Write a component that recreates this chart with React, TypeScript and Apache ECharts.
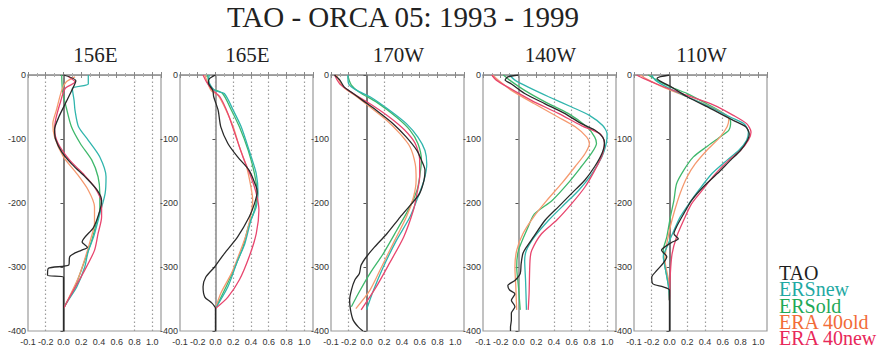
import React, { useEffect, useRef } from 'react';
import * as echarts from 'echarts';

const mainTitle = 'TAO - ORCA 05: 1993 - 1999';
const stations = ['156E', '165E', '170W', '140W', '110W'];
const seriesNames = ['TAO', 'ERSnew', 'ERSold', 'ERA 40old', 'ERA 40new'];
const xTickLabels = ['-0.1', '-0.2', '0.0', '0.2', '0.4', '0.6', '0.8', '1.0'];

// [velocity, depth]
const tao156E = [[0,0],[0.14,-9],[0.09,-25],[0.02,-45],[-0.05,-65],[-0.1,-85],[-0.09,-100],[-0.02,-120],[0.1,-140],[0.25,-160],[0.38,-180],[0.43,-196],[0.41,-212],[0.34,-238],[0.21,-261],[0.27,-269],[0.2,-274],[0.13,-278],[0.07,-284],[0.06,-297],[-0.17,-302],[-0.18,-313],[0,-316],[0,-400]];
const ersNew156E = [[0.28,0],[0.28,-14],[0.1,-21],[0.12,-40],[0.13,-55],[0.17,-81],[0.28,-102],[0.41,-128],[0.48,-159],[0.47,-185],[0.41,-217],[0.34,-253],[0.28,-275],[0.24,-300],[0.15,-331],[0.03,-357],[0,-365]];
const ersOld156E = [[-0.02,0],[-0.01,-25],[0.03,-50],[0.09,-81],[0.19,-107],[0.32,-133],[0.39,-159],[0.41,-185],[0.41,-210],[0.37,-232],[0.32,-258],[0.24,-290],[0.13,-331],[0,-365]];
const era40Old156E = [[0.13,-3],[0.03,-11],[-0.02,-24],[-0.08,-55],[-0.12,-76],[-0.1,-97],[0,-128],[0.15,-154],[0.28,-180],[0.35,-206],[0.35,-232],[0.31,-255],[0.26,-279],[0.17,-316],[0,-365]];
const era40New156E = [[0.05,-2],[0.13,-11],[0.02,-21],[-0.04,-45],[-0.09,-71],[-0.1,-86],[-0.06,-107],[0.07,-133],[0.22,-154],[0.35,-175],[0.43,-201],[0.43,-222],[0.39,-248],[0.35,-274],[0.22,-310],[0.07,-347],[0,-365]];

const tao165E = [[0,0],[-0.07,-6],[-0.08,-12],[-0.03,-24],[-0.02,-34],[0.03,-55],[0.06,-81],[0.14,-107],[0.25,-128],[0.38,-149],[0.46,-175],[0.47,-183],[0.44,-201],[0.38,-222],[0.25,-253],[0.1,-279],[-0.01,-300],[-0.11,-316],[-0.14,-331],[-0.12,-347],[-0.05,-355],[0,-365],[0,-400]];
const ersNew165E = [[-0.07,0],[-0.08,-8],[-0.01,-24],[0.1,-29],[0.2,-55],[0.29,-81],[0.38,-118],[0.46,-154],[0.48,-185],[0.46,-206],[0.4,-227],[0.33,-264],[0.25,-290],[0.14,-331],[0,-365]];
const ersOld165E = [[-0.09,0],[-0.05,-20],[0.08,-29],[0.18,-55],[0.27,-81],[0.37,-118],[0.44,-154],[0.47,-185],[0.44,-211],[0.37,-237],[0.31,-269],[0.22,-300],[0.12,-331],[0,-365]];
const era40Old165E = [[-0.12,0],[-0.05,-24],[0.03,-32],[0.12,-55],[0.2,-81],[0.27,-112],[0.35,-143],[0.4,-175],[0.42,-196],[0.4,-217],[0.35,-248],[0.27,-279],[0.18,-310],[0.06,-341],[0,-365]];
const era40New165E = [[-0.14,0],[-0.1,-11],[-0.03,-24],[0.05,-34],[0.14,-60],[0.22,-92],[0.31,-128],[0.4,-159],[0.46,-185],[0.49,-211],[0.46,-248],[0.38,-284],[0.27,-320],[0.14,-347],[0,-365]];

const tao170W = [[-0.36,0],[-0.3,-8],[-0.25,-19],[-0.15,-29],[-0.04,-40],[0.11,-55],[0.3,-76],[0.45,-97],[0.57,-118],[0.62,-133],[0.66,-149],[0.65,-164],[0.6,-185],[0.51,-201],[0.38,-222],[0.23,-248],[0.09,-269],[0,-284],[-0.06,-297],[-0.08,-310],[-0.13,-320],[-0.17,-336],[-0.19,-352],[-0.18,-367],[-0.15,-383],[-0.09,-394],[-0.04,-400]];
const ersNew170W = [[-0.21,0],[-0.2,-14],[-0.11,-24],[0.04,-34],[0.26,-55],[0.45,-76],[0.58,-97],[0.66,-118],[0.68,-139],[0.65,-164],[0.58,-191],[0.49,-222],[0.34,-258],[0.19,-300],[0.08,-336],[0,-367]];
const ersOld170W = [[-0.21,-2],[-0.17,-16],[-0.08,-27],[0.11,-42],[0.34,-66],[0.49,-86],[0.58,-107],[0.62,-133],[0.6,-159],[0.57,-180],[0.49,-206],[0.34,-243],[0.19,-279],[0.04,-310],[-0.09,-341],[-0.17,-362]];
const era40Old170W = [[-0.34,0],[-0.26,-19],[-0.11,-34],[0.04,-50],[0.23,-71],[0.38,-92],[0.49,-112],[0.55,-139],[0.56,-164],[0.53,-191],[0.45,-222],[0.32,-258],[0.17,-300],[0.04,-336],[-0.12,-365]];
const era40New170W = [[-0.36,0],[-0.3,-14],[-0.15,-29],[0.04,-45],[0.26,-66],[0.43,-86],[0.55,-107],[0.6,-133],[0.6,-159],[0.57,-185],[0.53,-211],[0.42,-253],[0.26,-294],[0.11,-331],[-0.06,-367]];

const tao140W = [[0,0],[-0.12,-3],[-0.15,-8],[-0.08,-14],[0.07,-29],[0.3,-45],[0.52,-60],[0.71,-76],[0.86,-86],[0.95,-97],[0.97,-107],[0.94,-123],[0.86,-143],[0.75,-164],[0.6,-185],[0.45,-206],[0.3,-227],[0.17,-253],[0.09,-269],[0.05,-279],[0.03,-295],[0.02,-310],[-0.04,-321],[-0.12,-329],[-0.1,-336],[-0.04,-342],[-0.08,-352],[-0.04,-362],[-0.08,-372],[-0.08,-383],[-0.09,-394],[-0.09,-400]];
const ersNew140W = [[-0.1,0],[-0.04,-8],[0.11,-19],[0.34,-34],[0.6,-50],[0.8,-63],[0.95,-79],[1.0,-92],[0.99,-107],[0.94,-128],[0.83,-154],[0.68,-180],[0.49,-206],[0.34,-227],[0.18,-253],[0.09,-274],[0.07,-290],[0.08,-321],[0.09,-367]];
const ersOld140W = [[-0.17,0],[-0.1,-8],[0.07,-24],[0.3,-42],[0.56,-60],[0.77,-81],[0.86,-97],[0.88,-107],[0.82,-123],[0.71,-143],[0.56,-169],[0.38,-196],[0.18,-217],[0.11,-237],[0,-274],[-0.02,-300],[0,-331],[0.02,-367]];
const era40Old140W = [[-0.29,0],[-0.23,-8],[-0.08,-24],[0.18,-45],[0.45,-66],[0.64,-81],[0.77,-97],[0.8,-107],[0.75,-123],[0.64,-143],[0.49,-169],[0.32,-196],[0.17,-222],[0.05,-248],[-0.02,-274],[-0.04,-300],[-0.03,-331],[-0.02,-367]];
const era40New140W = [[-0.3,0],[-0.25,-8],[-0.12,-19],[0.15,-40],[0.45,-60],[0.71,-79],[0.92,-92],[0.97,-105],[0.95,-123],[0.86,-149],[0.75,-175],[0.6,-201],[0.43,-227],[0.26,-248],[0.15,-274],[0.13,-290],[0.12,-341],[0.11,-367]];

const tao110W = [[0,0],[-0.14,-5],[-0.1,-10],[0,-17],[0.2,-34],[0.5,-55],[0.72,-71],[0.86,-81],[0.9,-92],[0.88,-102],[0.8,-118],[0.69,-133],[0.54,-154],[0.38,-175],[0.25,-196],[0.16,-217],[0.08,-237],[0.05,-248],[0.1,-256],[0.02,-262],[-0.09,-274],[-0.03,-284],[-0.07,-294],[-0.14,-305],[-0.2,-316],[-0.19,-326],[-0.07,-331],[0,-336],[0,-400]];
const ersNew110W = [[-0.2,0],[-0.16,-8],[-0.03,-19],[0.2,-34],[0.46,-50],[0.69,-66],[0.84,-76],[0.89,-89],[0.87,-102],[0.78,-118],[0.65,-133],[0.48,-154],[0.33,-180],[0.22,-201],[0.12,-222],[0.05,-243],[-0.03,-269],[-0.07,-284],[-0.05,-300],[-0.01,-331],[0,-352]];
const ersOld110W = [[-0.24,0],[-0.18,-5],[-0.03,-16],[0.2,-29],[0.42,-45],[0.61,-60],[0.69,-73],[0.67,-86],[0.57,-97],[0.42,-112],[0.27,-128],[0.16,-149],[0.08,-170],[0.05,-196],[0.01,-222],[-0.03,-253],[-0.07,-274],[-0.05,-300],[-0.01,-331],[0,-352]];
const era40Old110W = [[-0.33,0],[-0.26,-6],[-0.07,-19],[0.2,-34],[0.42,-47],[0.61,-60],[0.67,-68],[0.65,-81],[0.57,-97],[0.42,-118],[0.29,-139],[0.2,-159],[0.12,-185],[0.06,-211],[0.01,-237],[-0.03,-264],[-0.05,-290],[-0.01,-321],[0,-352]];
const era40New110W = [[-0.37,0],[-0.3,-5],[-0.11,-16],[0.2,-32],[0.5,-47],[0.72,-63],[0.87,-76],[0.92,-89],[0.89,-102],[0.8,-118],[0.67,-133],[0.52,-154],[0.37,-180],[0.25,-201],[0.16,-227],[0.08,-253],[0.03,-279],[0.01,-310],[0,-352]];

// dotted reference lines per panel, and whether a solid zero line is drawn
const refLines156E = [-0.2, 0.8, 1.0];
const refLines165E = [0.0, 0.2, 0.4, 0.6, 0.8, 1.0];
const refLines170W = [-0.2, 0.2];
const refLines140W = [0.4, 0.6, 0.8, 1.0];
const refLines110W = [-0.2, 0.2, 0.4, 0.6];
const zeroLines = [false, false, true, false, true];

const panelData = [
  [tao156E, ersNew156E, ersOld156E, era40Old156E, era40New156E],
  [tao165E, ersNew165E, ersOld165E, era40Old165E, era40New165E],
  [tao170W, ersNew170W, ersOld170W, era40Old170W, era40New170W],
  [tao140W, ersNew140W, ersOld140W, era40Old140W, era40New140W],
  [tao110W, ersNew110W, ersOld110W, era40Old110W, era40New110W],
];
const panelRefs = [refLines156E, refLines165E, refLines170W, refLines140W, refLines110W];

const lineColors = ['#2a2a2a', '#30b5ad', '#3fb86c', '#f59a70', '#e8466e'];
const legendColors = ['#1e1e1e', '#1fa9a3', '#1fa957', '#f26c38', '#e8285a'];

const X_MIN = -0.4;
const X_MAX = 1.1;
const X_STEP = 0.2;
const gridLefts = [28, 180, 331, 483, 634];
const GRID_W = 133;
const GRID_TOP = 75;
const GRID_H = 256;

const serif = "'Liberation Serif', serif";
const sans = "'Liberation Sans', sans-serif";

function xLabel(v: number): string {
  const i = Math.round((v - X_MIN) / X_STEP);
  if (i >= 0 && i < xTickLabels.length && Math.abs(X_MIN + i * X_STEP - v) < 1e-6) return xTickLabels[i];
  return '';
}

export default function App() {
  const ref = useRef<HTMLDivElement>(null);
  useEffect(() => {
    const chart = echarts.init(ref.current!, null, { renderer: 'svg' });
    const grids: any[] = [];
    const xAxes: any[] = [];
    const yAxes: any[] = [];
    const series: any[] = [];
    const drawOrder = [2, 3, 1, 4, 0];
    stations.forEach((st, p) => {
      grids.push({ left: gridLefts[p], top: GRID_TOP, width: GRID_W, height: GRID_H, show: true, borderColor: '#9a9a9a', borderWidth: 1.2, backgroundColor: 'transparent' });
      xAxes.push({
        type: 'value', gridIndex: p, min: X_MIN, max: X_MAX, interval: X_STEP, position: 'bottom',
        axisLine: { show: true, lineStyle: { color: '#9a9a9a', width: 1.2 } },
        axisTick: { show: true, inside: true, length: 3, lineStyle: { color: '#888' } },
        minorTick: { show: true, splitNumber: 2, length: 2, lineStyle: { color: '#aaa' } },
        axisLabel: { formatter: xLabel, fontFamily: sans, fontSize: 9, color: '#333', margin: 6, showMaxLabel: false },
        splitLine: { show: false },
      });
      yAxes.push({
        type: 'value', gridIndex: p, min: -400, max: 0, interval: 100,
        axisLine: { show: true, lineStyle: { color: p === 0 ? '#555' : '#888', width: 1.5 } },
        axisTick: { show: true, inside: false, length: 3, lineStyle: { color: '#555' } },
        axisLabel: { fontFamily: sans, fontSize: 9, color: '#333', margin: 2 },
        splitLine: { show: false },
      });
      drawOrder.forEach((k, n) => {
        const s: any = {
          type: 'line', name: seriesNames[k], xAxisIndex: p, yAxisIndex: p,
          data: panelData[p][k], showSymbol: false, symbol: 'none', smooth: 0.25,
          lineStyle: { color: lineColors[k], width: 1.3 }, itemStyle: { color: lineColors[k] },
          z: 3 + n,
        };
        if (n === 0) {
          const ml: any[] = panelRefs[p].map((v) => ({ xAxis: v, lineStyle: { type: [1.5, 2.5], color: '#9c9c9c', width: 1.2 } }));
          if (zeroLines[p]) ml.push({ xAxis: 0, lineStyle: { type: 'solid', color: '#6e6e6e', width: 1.5 } });
          s.markLine = { silent: true, symbol: ['none', 'none'], label: { show: false }, data: ml, z: 1 };
        }
        series.push(s);
      });
    });
    // top border ticks
    stations.forEach((st, p) => {
      xAxes.push({
        type: 'value', gridIndex: p, min: X_MIN, max: X_MAX, interval: X_STEP, position: 'top',
        axisLine: { show: true, lineStyle: { color: '#9a9a9a', width: 1.5 } },
        axisTick: { show: true, inside: true, length: 3, lineStyle: { color: '#888' } },
        minorTick: { show: true, splitNumber: 2, length: 2, lineStyle: { color: '#aaa' } },
        axisLabel: { show: false }, splitLine: { show: false },
      });
    });
    const legendRich: any = {};
    seriesNames.forEach((n, i) => {
      legendRich['s' + i] = { color: legendColors[i], fontFamily: serif, fontSize: 20, lineHeight: 16.25 };
    });
    const option: any = {
      animation: false,
      backgroundColor: '#ffffff',
      textStyle: { fontFamily: serif },
      title: [
        { text: mainTitle, left: 403, top: 2, textAlign: 'center', padding: 0, textStyle: { fontFamily: serif, fontSize: 29, fontWeight: 'normal', color: '#222' } },
        ...stations.map((s, i) => ({ text: s, left: gridLefts[i] + GRID_W / 2 + 1, top: 44, textAlign: 'center', padding: 0, textStyle: { fontFamily: serif, fontSize: 21, fontWeight: 'normal', color: '#222' } })),
        {
          text: seriesNames.map((n, i) => `{s${i}|${n}}`).join('\n'),
          left: 779, top: 265, padding: 0,
          textStyle: { fontFamily: serif, fontSize: 20, fontWeight: 'normal', lineHeight: 16.25, rich: legendRich },
        },
      ],
      grid: grids,
      xAxis: xAxes,
      yAxis: yAxes,
      series,
    };
    chart.setOption(option);
    return () => chart.dispose();
  }, []);
  return <div ref={ref} style={{ position: 'absolute', left: 0, top: 0, width: 880, height: 352 }} />;
}
